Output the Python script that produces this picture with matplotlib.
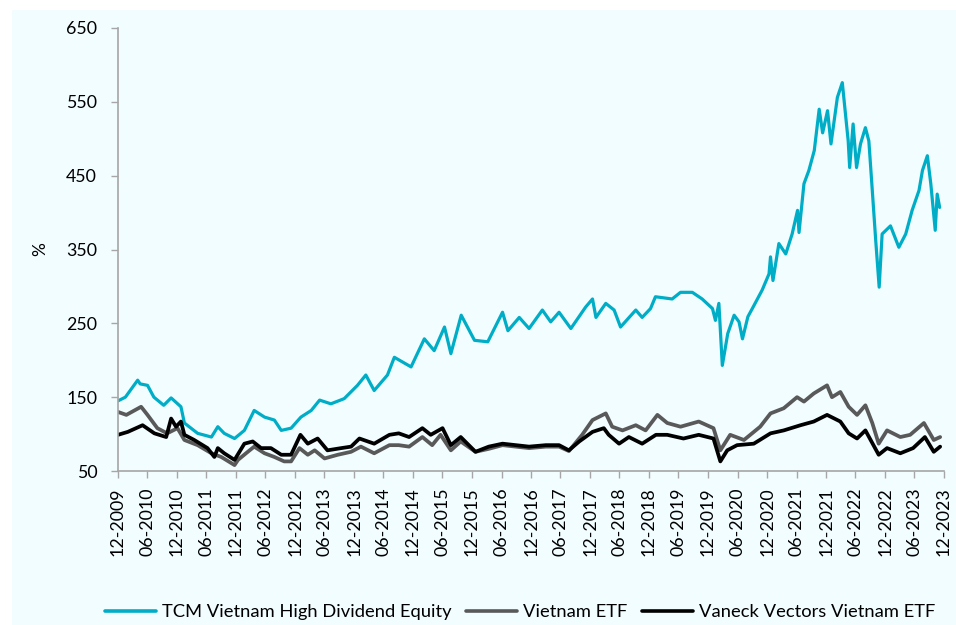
import matplotlib
matplotlib.use("Agg")
import matplotlib.pyplot as plt
import matplotlib.dates as mdates
from matplotlib.patches import Rectangle
import numpy as np
import pandas as pd

# ---------------- data (months elapsed since Dec 2009, index value in %) ----------------
tcm_months = [0, 1.5, 4.0, 4.5, 6.0, 7.3, 9.3, 10.8, 12.8, 13.5, 16.2, 19.0, 20.3, 21.6,
              23.7, 25.7, 27.7, 29.8, 31.8, 33.2, 35.2, 37.2, 39.3, 41.0, 43.3, 46.0,
              48.7, 50.4, 52.1, 54.8, 56.2, 59.6, 62.3, 64.3, 66.4, 67.7, 69.8, 72.5,
              75.2, 78.2, 79.3, 81.6, 83.6, 86.3, 88.0, 89.7, 92.1, 95.1, 96.5, 97.2,
              99.2, 100.9, 102.2, 105.3, 106.6, 108.3, 109.3, 112.7, 114.4, 116.8,
              118.8, 120.9, 121.5, 122.2, 122.9, 124.0, 125.3, 126.3, 127.0, 128.1,
              129.0, 131.0, 132.4, 132.7, 133.2, 134.4, 135.8, 137.1, 138.2, 138.5,
              139.5, 140.5, 141.6, 142.6, 143.3, 144.3, 145.0, 146.3, 147.3, 148.5,
              148.8, 149.5, 150.2, 151.0, 152.0, 152.7, 153.4, 154.1, 154.8, 155.4,
              157.1, 158.8, 160.2, 161.5, 162.9, 163.6, 164.6, 165.3, 166.2, 166.6, 167.1]
tcm_values = [145, 150, 173, 168, 166, 150, 139, 149, 137, 115, 101, 96, 110, 101,
              94, 105, 132, 123, 119, 105, 108, 123, 132, 146, 141, 148,
              166, 180, 159, 180, 204, 191, 229, 213, 245, 209, 261, 227,
              225, 265, 240, 258, 243, 268, 252, 265, 243, 272, 283, 258,
              277, 268, 245, 268, 258, 270, 286, 283, 292, 292,
              283, 270, 254, 277, 193, 236, 261, 252, 229, 259,
              270, 295, 317, 340, 308, 358, 344, 371, 403, 373,
              439, 457, 484, 540, 508, 538, 493, 556, 576, 497,
              461, 520, 461, 493, 515, 497, 430, 362, 299, 371,
              382, 353, 371, 403, 430, 457, 477, 439, 376, 425, 407]

etf_months = [0, 1.7, 4.7, 6.0, 8.0, 10.0, 12.1, 13.5, 16.2, 19.0, 21.0, 23.7, 24.4,
              26.4, 27.7, 29.8, 31.8, 33.8, 35.2, 36.9, 38.6, 40.0, 42.0, 44.7, 47.4,
              49.4, 52.1, 55.2, 57.1, 59.2, 61.9, 63.9, 65.6, 67.7, 69.7, 72.7, 75.4,
              78.2, 80.9, 83.6, 87.0, 89.7, 91.7, 94.4, 96.5, 99.2, 100.5, 102.6,
              105.3, 107.3, 109.7, 111.7, 114.4, 118.1, 121.1, 122.5, 124.5, 127.3,
              130.6, 132.7, 135.4, 138.1, 139.5, 141.5, 144.2, 145.2, 146.9, 148.6,
              150.3, 152.0, 153.4, 154.7, 156.4, 159.1, 161.1, 163.9, 165.9, 167.2]
etf_values = [130, 126, 137, 126, 108, 101, 108, 92, 85, 74, 69, 58, 65,
              76, 83, 74, 69, 63, 63, 81, 72, 78, 67, 72, 76,
              83, 74, 85, 85, 83, 96, 85, 99, 78, 90, 76, 80,
              85, 83, 81, 83, 83, 77, 99, 119, 128, 110, 105,
              112, 105, 126, 115, 110, 117, 108, 78, 99, 92,
              110, 128, 135, 150, 144, 155, 166, 150, 157, 137,
              126, 139, 115, 87, 105, 96, 99, 115, 92, 96]

vaneck_months = [0, 2.0, 5.0, 7.4, 9.8, 10.8, 11.8, 12.8, 13.5, 15.5, 18.2, 19.6, 20.3,
                 21.6, 23.7, 25.7, 27.4, 29.1, 31.1, 33.2, 35.2, 37.1, 38.6, 40.6, 42.6,
                 45.4, 47.4, 49.1, 52.1, 55.2, 57.1, 59.2, 61.9, 63.6, 66.0, 67.7, 69.7,
                 72.7, 75.4, 78.2, 80.9, 83.6, 87.0, 89.7, 91.7, 93.8, 96.5, 98.8, 99.8,
                 101.9, 103.9, 106.6, 109.4, 111.7, 115.0, 118.1, 121.1, 122.5, 123.9,
                 125.9, 129.3, 132.7, 135.4, 138.8, 141.5, 144.2, 146.9, 148.6, 150.3,
                 152.0, 154.7, 156.4, 159.1, 161.7, 164.1, 165.9, 167.2]
vaneck_values = [99, 103, 112, 101, 96, 121, 110, 117, 99, 92, 81, 69, 81,
                 74, 65, 87, 90, 81, 81, 72, 72, 99, 87, 94, 78,
                 81, 83, 94, 87, 99, 101, 96, 108, 99, 108, 85, 96,
                 76, 83, 87, 85, 83, 85, 85, 78, 90, 103, 108, 99,
                 87, 96, 87, 99, 99, 94, 99, 94, 63, 78,
                 85, 87, 101, 105, 112, 117, 126, 117, 101, 94,
                 105, 72, 81, 74, 81, 96, 76, 83]

series_names = ["TCM Vietnam High Dividend Equity", "Vietnam ETF", "Vaneck Vectors Vietnam ETF"]
series_colors = ["#00adc6", "#595959", "#000000"]
y_ticks = [50, 150, 250, 350, 450, 550, 650]
y_label = "%"

# ---------------- figure ----------------
FONT = "Lato"
plt.rcParams["font.family"] = [FONT, "DejaVu Sans"]

W, H = 956, 625
fig = plt.figure(figsize=(W / 100, H / 100), dpi=100)
fig.patch.set_facecolor("white")
bg = "#f2fdff"
fig.patches.append(Rectangle((12 / W, 0), 1 - 12 / W, 1 - 10 / H, transform=fig.transFigure,
                             facecolor=bg, edgecolor="none", zorder=-10))

ax = fig.add_axes([118 / W, 1 - 471 / H, (944 - 118) / W, (471 - 28) / H])
ax.set_facecolor(bg)
ax.patch.set_alpha(0)

base = pd.Timestamp("2009-12-01")
def to_dates(months):
    return base + pd.to_timedelta(np.asarray(months) * 30.4375, unit="D")

lws = [2.3, 2.7, 2.7]
for months, vals, name, col, lw in zip([tcm_months, etf_months, vaneck_months],
                                        [tcm_values, etf_values, vaneck_values],
                                        series_names, series_colors, lws):
    ax.plot(to_dates(months), vals, color=col, lw=lw, label=name,
            solid_joinstyle="round", solid_capstyle="round")

ax.set_ylim(50, 650)
ax.set_yticks(y_ticks)
ax.set_xlim(pd.Timestamp("2009-12-01"), pd.Timestamp("2023-12-01"))
xt = pd.date_range("2009-12-01", "2023-12-01", freq="6MS")
ax.set_xticks(xt)
ax.xaxis.set_major_formatter(mdates.DateFormatter("%m-%Y"))

for s in ["top", "right"]:
    ax.spines[s].set_visible(False)
for s in ["left", "bottom"]:
    ax.spines[s].set_color("#a6a6a6")
    ax.spines[s].set_linewidth(1.2)

ax.tick_params(axis="y", direction="out", length=5, width=1.0, color="#a6a6a6",
               pad=10, labelsize=12.8, labelcolor="#000000")
ax.tick_params(axis="x", direction="out", length=5, width=1.0, color="#a6a6a6",
               pad=7, labelsize=12.8, labelcolor="#000000", labelrotation=90)

fig.text(40 / W, 1 - 249 / H, y_label, rotation=90, ha="center", va="center", fontsize=12.5)

leg = fig.legend(loc="center", bbox_to_anchor=(520 / W, 1 - 612 / H), ncol=3, frameon=False,
                 fontsize=13.2, handlelength=2.8, handletextpad=0.3, columnspacing=0.8)
for line in leg.get_lines():
    line.set_linewidth(2.6)

fig.savefig("out.png", dpi=100, facecolor=fig.get_facecolor())
